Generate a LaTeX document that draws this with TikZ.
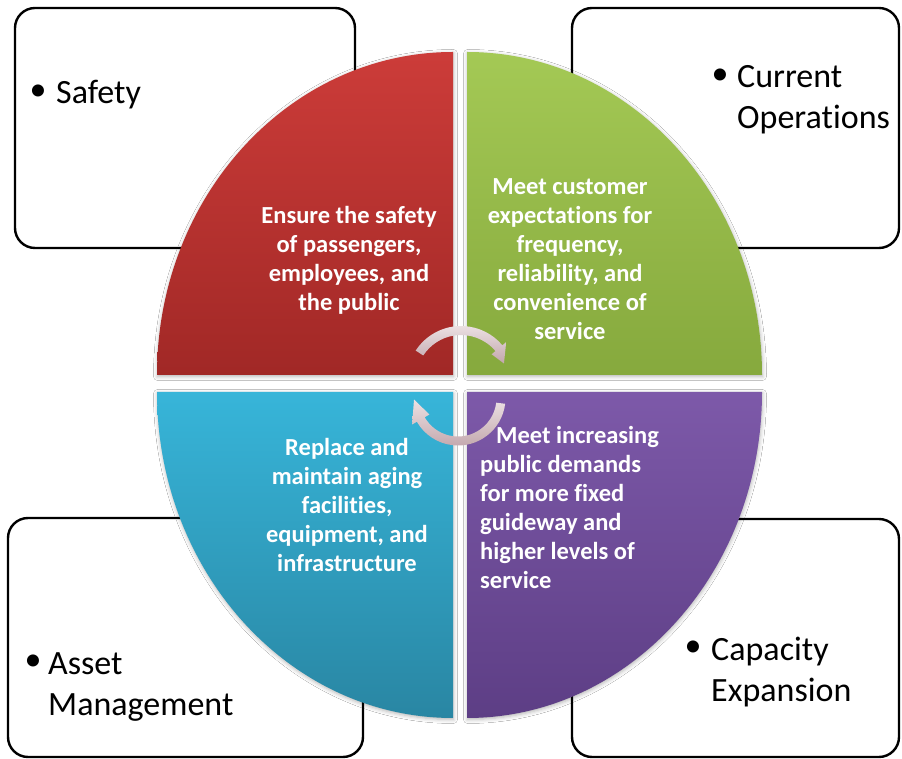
\documentclass[tikz,border=0pt]{standalone}
\usepackage{fontspec}
\setmainfont{Carlito}[Ligatures=CommonOff]
\usetikzlibrary{shadows.blur}
\definecolor{redtop}{HTML}{CC3C39}
\definecolor{redbot}{HTML}{A12826}
\definecolor{greentop}{HTML}{A4C955}
\definecolor{greenbot}{HTML}{86A93D}
\definecolor{bluetop}{HTML}{37B5D9}
\definecolor{bluebot}{HTML}{2986A3}
\definecolor{purpletop}{HTML}{7D59A9}
\definecolor{purplebot}{HTML}{5D3E85}
\definecolor{cyctop}{HTML}{ECE1E3}
\definecolor{cycbot}{HTML}{C2A6AC}
\newcommand\goallines[2]{\begin{tabular}[t]{@{}#1@{}}#2\end{tabular}}
\begin{document}
\begin{tikzpicture}[x=1pt,y=1pt,
  box/.style={draw=black, line width=2.4pt, rounded corners=20pt, fill=white},
  quad/.style={blur shadow={shadow xshift=0.5pt, shadow yshift=-1.5pt,
      shadow blur radius=4pt, shadow opacity=30}},
  bul/.style={inner sep=0pt, font=\fontsize{34}{41}\selectfont, text=black},
  lbl/.style={inner sep=0pt, anchor=base west, font=\fontsize{34}{41}\selectfont, text=black},
  goal/.style={inner sep=0pt, anchor=base, text=white,
      font=\bfseries\fontsize{24.5}{29}\selectfont},
  cyc/.style={top color=cyctop, bottom color=cycbot, draw=none}
]
\useasboundingbox (0,0) rectangle (902,758);
\fill[white] (0,0) rectangle (902,758);

% outer frames
\draw[box] (15,510) rectangle (355,750);
\draw[box] (572,510) rectangle (899,750);
\draw[box] (8,1) rectangle (363,240);
\draw[box] (572,1) rectangle (899,239);

% frame labels
\node[bul] (b1) at (38,665) {•};
\node[lbl] (t1) at (56,654) {\goallines{l}{Safety}};
\node[bul] (b2) at (720,681) {•};
\node[lbl] (t2) at (737,670) {\goallines{l}{Current\\Operations}};
\node[bul] (b3) at (33,95) {•};
\node[lbl] (t3) at (48,84) {\goallines{l}{Asset\\Management}};
\node[bul] (b4) at (693,109) {•};
\node[lbl] (t4) at (711,98) {\goallines{l}{Capacity\\Expansion}};

% four quadrants
\path[quad, top color=redtop, bottom color=redbot]
  (453,383) -- (157,383) arc[start angle=180, end angle=90, x radius=296, y radius=323] -- cycle;
\path[quad, top color=greentop, bottom color=greenbot]
  (467,383) -- (467,706) arc[start angle=90, end angle=0, x radius=295, y radius=323] -- cycle;
\path[quad, top color=bluetop, bottom color=bluebot]
  (453,366) -- (453,40) arc[start angle=270, end angle=180, x radius=296, y radius=326] -- cycle;
\path[quad, top color=purpletop, bottom color=purplebot]
  (467,366) -- (762,366) arc[start angle=0, end angle=-90, x radius=295, y radius=326] -- cycle;

% quadrant texts
\node[goal] (g1) at (349,534) {\goallines{c}{Ensure the safety\\of passengers,\\employees, and\\the public}};
\node[goal] (g2) at (570,563) {\goallines{c}{Meet customer\\expectations for\\frequency,\\reliability, and\\convenience of\\service}};
\node[goal] (g3) at (347,302) {\goallines{c}{Replace and\\maintain aging\\facilities,\\equipment, and\\infrastructure}};
\node[goal, anchor=base west] (g4) at (480,314) {\goallines{l}{\hspace*{16pt}Meet increasing\\public demands\\for more fixed\\guideway and\\higher levels of\\service}};

% circular arrows in the middle
\begin{scope}[shift={(461,378)}]
  \path[cyc] (147:54) arc[start angle=147, end angle=40, radius=54]
    -- (40:59) -- (21:46) -- (40:40) -- (40:45)
    arc[start angle=40, end angle=147, radius=45] -- cycle;
\end{scope}
\begin{scope}[shift={(458,360)}]
  \path[cyc] (-7:47.5) arc[start angle=-7, end angle=-150, radius=47.5]
    -- (-150:53) -- (-178:44) -- (-150:33) -- (-150:38.5)
    arc[start angle=-150, end angle=-7, radius=38.5] -- cycle;
\end{scope}
\end{tikzpicture}
\end{document}
